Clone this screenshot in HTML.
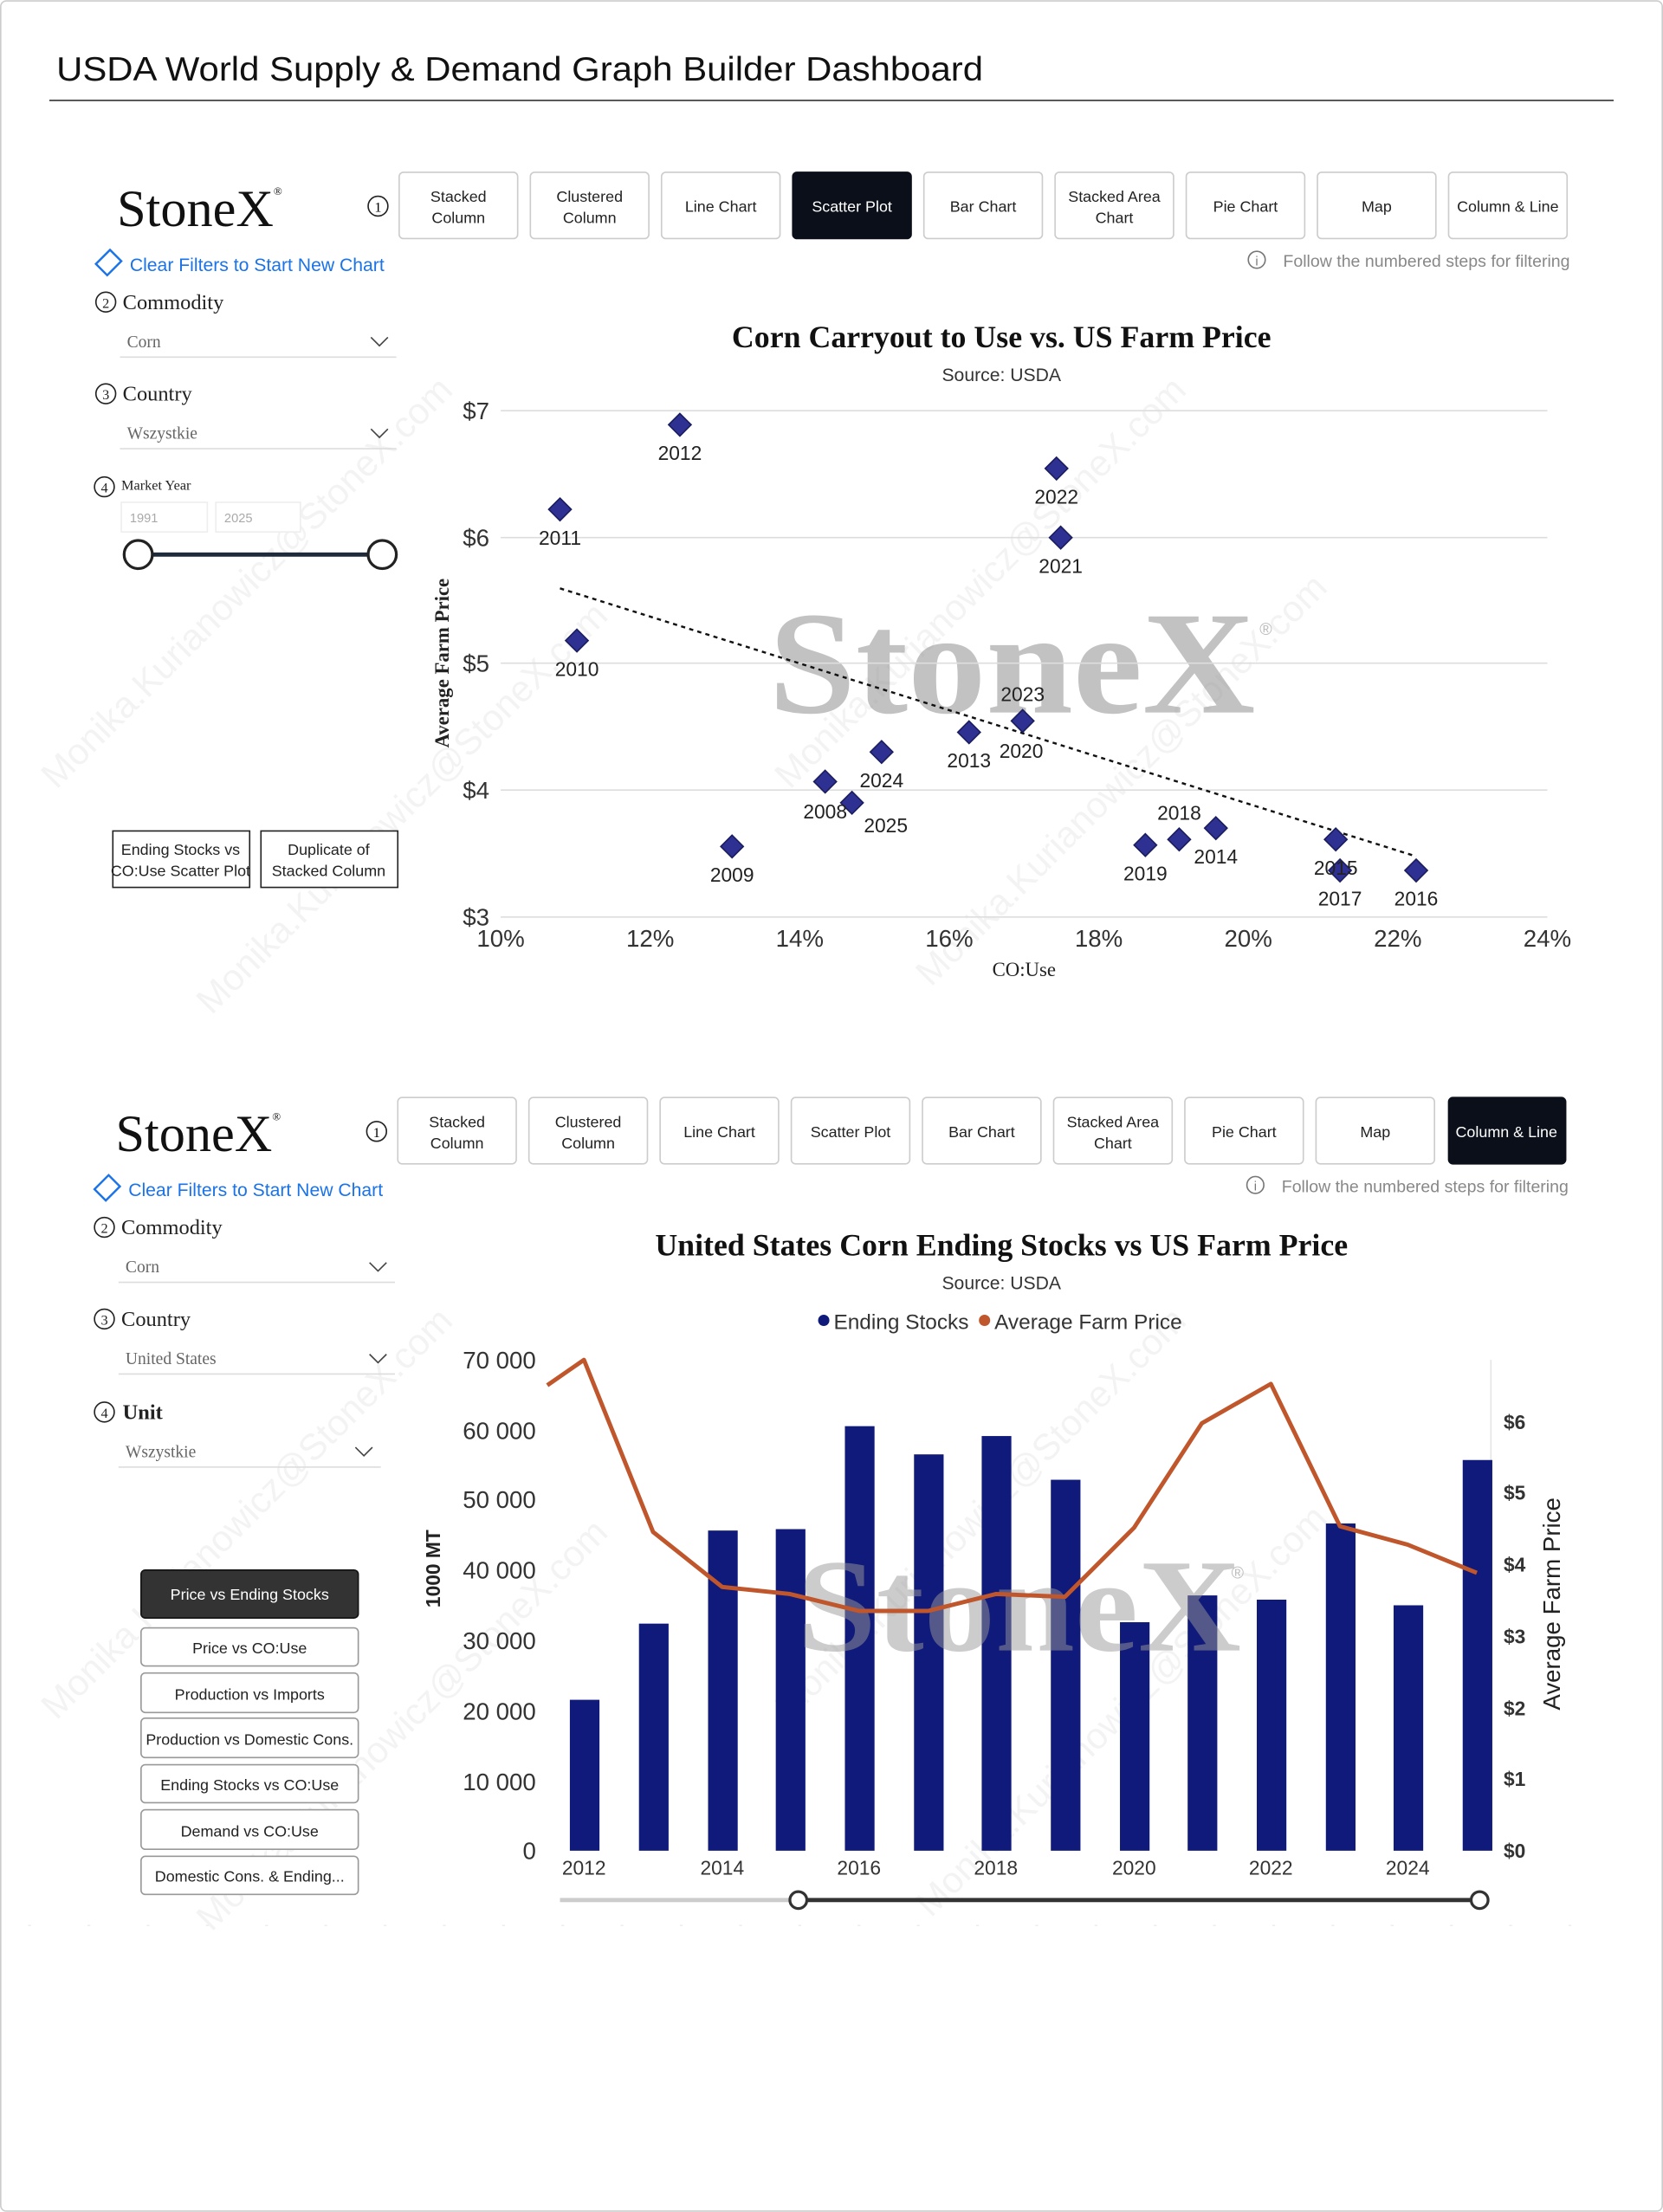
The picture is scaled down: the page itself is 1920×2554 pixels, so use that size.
<!DOCTYPE html>
<html><head><meta charset="utf-8"><style>
html,body{margin:0;padding:0;background:#fff;}
svg{display:block;}
.s{font-family:"Liberation Sans",sans-serif;}
.r{font-family:"Liberation Serif",serif;}
</style></head><body>
<svg width="1920" height="2554" viewBox="0 0 1179 1568" xmlns="http://www.w3.org/2000/svg">
<rect x="0.5" y="0.5" width="1178" height="1567" rx="4" fill="#fff" stroke="#ccc"/>
<text x="40" y="57" class="s" font-size="24" fill="#111" textLength="657" lengthAdjust="spacingAndGlyphs">USDA World Supply &amp; Demand Graph Builder Dashboard</text>
<line x1="35" y1="71" x2="1144" y2="71" stroke="#333" stroke-width="1"/>

<!-- watermarks -->
<g class="s" font-size="26" fill="#000" opacity="0.05">
<text transform="translate(40,560) rotate(-45)">Monika.Kurianowicz@StoneX.com</text>
<text transform="translate(150,720) rotate(-45)">Monika.Kurianowicz@StoneX.com</text>
<text transform="translate(560,560) rotate(-45)">Monika.Kurianowicz@StoneX.com</text>
<text transform="translate(660,700) rotate(-45)">Monika.Kurianowicz@StoneX.com</text>
<text transform="translate(40,1220) rotate(-45)">Monika.Kurianowicz@StoneX.com</text>
<text transform="translate(150,1370) rotate(-45)">Monika.Kurianowicz@StoneX.com</text>
<text transform="translate(560,1220) rotate(-45)">Monika.Kurianowicz@StoneX.com</text>
<text transform="translate(660,1360) rotate(-45)">Monika.Kurianowicz@StoneX.com</text>
</g>

<!-- ============ PANEL 1 ============ -->
<text x="83" y="160" class="r" font-size="37" fill="#111">StoneX<tspan font-size="8" dy="-22">®</tspan></text>
<circle cx="268" cy="146" r="7" fill="none" stroke="#222"/><text x="268" y="150" class="r" font-size="10" text-anchor="middle">1</text>
<g class="s" font-size="11" text-anchor="middle" fill="#222">
<rect x="283" y="122" width="84" height="47" rx="3" fill="#fff" stroke="#ccc"/><text x="325" y="143">Stacked</text><text x="325" y="158">Column</text>
<rect x="376" y="122" width="84" height="47" rx="3" fill="#fff" stroke="#ccc"/><text x="418" y="143">Clustered</text><text x="418" y="158">Column</text>
<rect x="469" y="122" width="84" height="47" rx="3" fill="#fff" stroke="#ccc"/><text x="511" y="150">Line Chart</text>
<rect x="562" y="122" width="84" height="47" rx="3" fill="#0b0f19" stroke="#0b0f19"/><text x="604" y="150" fill="#fff">Scatter Plot</text>
<rect x="655" y="122" width="84" height="47" rx="3" fill="#fff" stroke="#ccc"/><text x="697" y="150">Bar Chart</text>
<rect x="748" y="122" width="84" height="47" rx="3" fill="#fff" stroke="#ccc"/><text x="790" y="143">Stacked Area</text><text x="790" y="158">Chart</text>
<rect x="841" y="122" width="84" height="47" rx="3" fill="#fff" stroke="#ccc"/><text x="883" y="150">Pie Chart</text>
<rect x="934" y="122" width="84" height="47" rx="3" fill="#fff" stroke="#ccc"/><text x="976" y="150">Map</text>
<rect x="1027" y="122" width="84" height="47" rx="3" fill="#fff" stroke="#ccc"/><text x="1069" y="150">Column &amp; Line</text>
</g>
<path d="M68,187 L78,177 L86,185 L76,195 Z" fill="none" stroke="#1a73e8" stroke-width="1.5"/>
<text x="92" y="192" class="s" font-size="13" fill="#1a73e8">Clear Filters to Start New Chart</text>
<circle cx="891" cy="184" r="6" fill="none" stroke="#777"/><text x="891" y="188" class="s" font-size="9" text-anchor="middle" fill="#777">i</text>
<text x="1113" y="189" class="s" font-size="12" fill="#888" text-anchor="end">Follow the numbered steps for filtering</text>
<g class="r" fill="#222">
<circle cx="75" cy="214" r="7" fill="none" stroke="#222"/><text x="75" y="218" font-size="10" text-anchor="middle">2</text>
<text x="87" y="219" font-size="15">Commodity</text>
<line x1="85" y1="253" x2="281" y2="253" stroke="#ddd"/><text x="90" y="246" font-size="12" fill="#666">Corn</text>
<path d="M263,239 L269,245 L275,239" fill="none" stroke="#444"/>
<circle cx="75" cy="279" r="7" fill="none" stroke="#222"/><text x="75" y="283" font-size="10" text-anchor="middle">3</text>
<text x="87" y="284" font-size="15">Country</text>
<line x1="85" y1="318" x2="281" y2="318" stroke="#ddd"/><text x="90" y="311" font-size="12" fill="#666">Wszystkie</text>
<path d="M263,304 L269,310 L275,304" fill="none" stroke="#444"/>
<circle cx="74" cy="345" r="7" fill="none" stroke="#222"/><text x="74" y="349" font-size="10" text-anchor="middle">4</text>
<text x="86" y="347" font-size="10">Market Year</text>
</g>
<rect x="86" y="356" width="61" height="21" fill="#fff" stroke="#eee"/><text x="92" y="370" class="s" font-size="9" fill="#aaa">1991</text>
<rect x="153" y="356" width="60" height="21" fill="#fff" stroke="#eee"/><text x="159" y="370" class="s" font-size="9" fill="#aaa">2025</text>
<line x1="98" y1="393" x2="271" y2="393" stroke="#1f2a3a" stroke-width="3"/>
<circle cx="98" cy="393" r="10" fill="#fff" stroke="#222" stroke-width="2"/><circle cx="271" cy="393" r="10" fill="#fff" stroke="#222" stroke-width="2"/>
<g class="s" font-size="11" text-anchor="middle" fill="#222">
<rect x="80" y="589" width="97" height="40" fill="#fff" stroke="#222"/><text x="128" y="606">Ending Stocks vs</text><text x="128" y="621">CO:Use Scatter Plot</text>
<rect x="185" y="589" width="97" height="40" fill="#fff" stroke="#222"/><text x="233" y="606">Duplicate of</text><text x="233" y="621">Stacked Column</text>
</g>

<!-- chart 1 -->
<text x="545" y="505" class="r" font-size="104" font-weight="bold" fill="#999" opacity="0.6" textLength="345" lengthAdjust="spacingAndGlyphs">StoneX</text>
<text x="893" y="450" class="s" font-size="12" fill="#bbb">®</text>
<text x="710" y="246" class="r" font-size="22" font-weight="bold" text-anchor="middle" fill="#111">Corn Carryout to Use vs. US Farm Price</text>
<text x="710" y="270" class="s" font-size="13" text-anchor="middle" fill="#333">Source: USDA</text>
<g stroke="#ddd">
<line x1="355" y1="291" x2="1097" y2="291"/><line x1="355" y1="381" x2="1097" y2="381"/><line x1="355" y1="470" x2="1097" y2="470"/><line x1="355" y1="560" x2="1097" y2="560"/><line x1="355" y1="650" x2="1097" y2="650"/>
</g>
<g class="s" font-size="17" fill="#333" text-anchor="end">
<text x="347" y="297">$7</text><text x="347" y="387">$6</text><text x="347" y="476">$5</text><text x="347" y="566">$4</text><text x="347" y="656">$3</text>
</g>
<g class="s" font-size="17" fill="#333" text-anchor="middle">
<text x="355" y="671">10%</text><text x="461" y="671">12%</text><text x="567" y="671">14%</text><text x="673" y="671">16%</text><text x="779" y="671">18%</text><text x="885" y="671">20%</text><text x="991" y="671">22%</text><text x="1097" y="671">24%</text>
</g>
<text x="726" y="692" class="r" font-size="14" text-anchor="middle" fill="#222">CO:Use</text>
<text transform="translate(318,470) rotate(-90)" class="r" font-size="14" font-weight="bold" text-anchor="middle" fill="#222">Average Farm Price</text>
<line x1="397" y1="417" x2="1004" y2="607" stroke="#111" stroke-width="1.5" stroke-dasharray="3,3"/>
<g fill="#2e3192" stroke="#1a1d5e" stroke-width="1">
<path d="M482,293l8,8l-8,8l-8,-8z"/><path d="M397,353l8,8l-8,8l-8,-8z"/><path d="M749,324l8,8l-8,8l-8,-8z"/><path d="M752,373l8,8l-8,8l-8,-8z"/>
<path d="M409,446l8,8l-8,8l-8,-8z"/><path d="M725,503l8,8l-8,8l-8,-8z"/><path d="M687,511l8,8l-8,8l-8,-8z"/><path d="M625,525l8,8l-8,8l-8,-8z"/>
<path d="M585,546l8,8l-8,8l-8,-8z"/><path d="M604,561l8,8l-8,8l-8,-8z"/><path d="M519,592l8,8l-8,8l-8,-8z"/><path d="M812,591l8,8l-8,8l-8,-8z"/>
<path d="M836,587l8,8l-8,8l-8,-8z"/><path d="M862,579l8,8l-8,8l-8,-8z"/><path d="M947,587l8,8l-8,8l-8,-8z"/><path d="M950,609l8,8l-8,8l-8,-8z"/><path d="M1004,609l8,8l-8,8l-8,-8z"/>
</g>
<g class="s" font-size="14" fill="#222" text-anchor="middle">
<text x="482" y="326">2012</text><text x="397" y="386">2011</text><text x="749" y="357">2022</text><text x="752" y="406">2021</text><text x="409" y="479">2010</text>
<text x="725" y="497">2023</text><text x="724" y="537">2020</text><text x="687" y="544">2013</text><text x="625" y="558">2024</text><text x="585" y="580">2008</text>
<text x="628" y="590">2025</text><text x="519" y="625">2009</text><text x="836" y="581">2018</text><text x="812" y="624">2019</text><text x="862" y="612">2014</text>
<text x="947" y="620">2015</text><text x="950" y="642">2017</text><text x="1004" y="642">2016</text>
</g>

<!-- ============ PANEL 2 ============ -->
<text x="82" y="816" class="r" font-size="37" fill="#111">StoneX<tspan font-size="8" dy="-22">®</tspan></text>
<circle cx="267" cy="802" r="7" fill="none" stroke="#222"/><text x="267" y="806" class="r" font-size="10" text-anchor="middle">1</text>
<g class="s" font-size="11" text-anchor="middle" fill="#222">
<rect x="282" y="778" width="84" height="47" rx="3" fill="#fff" stroke="#ccc"/><text x="324" y="799">Stacked</text><text x="324" y="814">Column</text>
<rect x="375" y="778" width="84" height="47" rx="3" fill="#fff" stroke="#ccc"/><text x="417" y="799">Clustered</text><text x="417" y="814">Column</text>
<rect x="468" y="778" width="84" height="47" rx="3" fill="#fff" stroke="#ccc"/><text x="510" y="806">Line Chart</text>
<rect x="561" y="778" width="84" height="47" rx="3" fill="#fff" stroke="#ccc"/><text x="603" y="806">Scatter Plot</text>
<rect x="654" y="778" width="84" height="47" rx="3" fill="#fff" stroke="#ccc"/><text x="696" y="806">Bar Chart</text>
<rect x="747" y="778" width="84" height="47" rx="3" fill="#fff" stroke="#ccc"/><text x="789" y="799">Stacked Area</text><text x="789" y="814">Chart</text>
<rect x="840" y="778" width="84" height="47" rx="3" fill="#fff" stroke="#ccc"/><text x="882" y="806">Pie Chart</text>
<rect x="933" y="778" width="84" height="47" rx="3" fill="#fff" stroke="#ccc"/><text x="975" y="806">Map</text>
<rect x="1027" y="778" width="83" height="47" rx="3" fill="#0b0f19" stroke="#0b0f19"/><text x="1068" y="806" fill="#fff">Column &amp; Line</text>
</g>
<path d="M67,843 L77,833 L85,841 L75,851 Z" fill="none" stroke="#1a73e8" stroke-width="1.5"/>
<text x="91" y="848" class="s" font-size="13" fill="#1a73e8">Clear Filters to Start New Chart</text>
<circle cx="890" cy="840" r="6" fill="none" stroke="#777"/><text x="890" y="844" class="s" font-size="9" text-anchor="middle" fill="#777">i</text>
<text x="1112" y="845" class="s" font-size="12" fill="#888" text-anchor="end">Follow the numbered steps for filtering</text>
<g class="r" fill="#222">
<circle cx="74" cy="870" r="7" fill="none" stroke="#222"/><text x="74" y="874" font-size="10" text-anchor="middle">2</text>
<text x="86" y="875" font-size="15">Commodity</text>
<line x1="84" y1="909" x2="280" y2="909" stroke="#ddd"/><text x="89" y="902" font-size="12" fill="#666">Corn</text>
<path d="M262,895 L268,901 L274,895" fill="none" stroke="#444"/>
<circle cx="74" cy="935" r="7" fill="none" stroke="#222"/><text x="74" y="939" font-size="10" text-anchor="middle">3</text>
<text x="86" y="940" font-size="15">Country</text>
<line x1="84" y1="974" x2="280" y2="974" stroke="#ddd"/><text x="89" y="967" font-size="12" fill="#666">United States</text>
<path d="M262,960 L268,966 L274,960" fill="none" stroke="#444"/>
<circle cx="74" cy="1001" r="7" fill="none" stroke="#222"/><text x="74" y="1005" font-size="10" text-anchor="middle">4</text>
<text x="87" y="1006" font-size="15" font-weight="bold">Unit</text>
<line x1="84" y1="1040" x2="270" y2="1040" stroke="#ddd"/><text x="89" y="1033" font-size="12" fill="#666">Wszystkie</text>
<path d="M252,1026 L258,1032 L264,1026" fill="none" stroke="#444"/>
</g>
<g class="s" font-size="11" text-anchor="middle" fill="#222">
<rect x="100" y="1113" width="154" height="34" rx="3" fill="#333" stroke="#111"/><text x="177" y="1134" fill="#fff">Price vs Ending Stocks</text>
<rect x="100" y="1154" width="154" height="27" rx="3" fill="#fff" stroke="#999"/><text x="177" y="1172">Price vs CO:Use</text>
<rect x="100" y="1186" width="154" height="28" rx="3" fill="#fff" stroke="#999"/><text x="177" y="1205">Production vs Imports</text>
<rect x="100" y="1218" width="154" height="28" rx="3" fill="#fff" stroke="#999"/><text x="177" y="1237">Production vs Domestic Cons.</text>
<rect x="100" y="1251" width="154" height="27" rx="3" fill="#fff" stroke="#999"/><text x="177" y="1269">Ending Stocks vs CO:Use</text>
<rect x="100" y="1283" width="154" height="28" rx="3" fill="#fff" stroke="#999"/><text x="177" y="1302">Demand vs CO:Use</text>
<rect x="100" y="1316" width="154" height="27" rx="3" fill="#fff" stroke="#999"/><text x="177" y="1334">Domestic Cons. &amp; Ending...</text>
</g>

<!-- chart 2 -->
<text x="710" y="890" class="r" font-size="22" font-weight="bold" text-anchor="middle" fill="#111">United States Corn Ending Stocks vs US Farm Price</text>
<text x="710" y="914" class="s" font-size="13" text-anchor="middle" fill="#333">Source: USDA</text>
<circle cx="584" cy="936" r="4" fill="#0f1a7a"/><text x="591" y="942" class="s" font-size="15" fill="#333">Ending Stocks</text>
<circle cx="698" cy="936" r="4" fill="#c0562b"/><text x="705" y="942" class="s" font-size="15" fill="#333">Average Farm Price</text>
<g class="s" font-size="17" fill="#333" text-anchor="end">
<text x="380" y="970">70 000</text><text x="380" y="1020">60 000</text><text x="380" y="1069">50 000</text><text x="380" y="1119">40 000</text><text x="380" y="1169">30 000</text><text x="380" y="1219">20 000</text><text x="380" y="1269">10 000</text><text x="380" y="1318">0</text>
</g>
<line x1="1057" y1="964" x2="1057" y2="1312" stroke="#e5e5e5"/>
<g class="s" font-size="14" font-weight="bold" fill="#333">
<text x="1066" y="1013">$6</text><text x="1066" y="1063">$5</text><text x="1066" y="1114">$4</text><text x="1066" y="1165">$3</text><text x="1066" y="1216">$2</text><text x="1066" y="1266">$1</text><text x="1066" y="1317">$0</text>
</g>
<text transform="translate(312,1112) rotate(-90)" class="s" font-size="14" font-weight="bold" text-anchor="middle" fill="#222">1000 MT</text>
<text transform="translate(1106,1137) rotate(-90)" class="s" font-size="17" text-anchor="middle" fill="#222">Average Farm Price</text>
<g fill="#0f1a7a">
<rect x="404" y="1205" width="21" height="107"/><rect x="453" y="1151" width="21" height="161"/><rect x="502" y="1085" width="21" height="227"/><rect x="550" y="1084" width="21" height="228"/>
<rect x="599" y="1011" width="21" height="301"/><rect x="648" y="1031" width="21" height="281"/><rect x="696" y="1018" width="21" height="294"/><rect x="745" y="1049" width="21" height="263"/>
<rect x="794" y="1150" width="21" height="162"/><rect x="842" y="1131" width="21" height="181"/><rect x="891" y="1134" width="21" height="178"/><rect x="940" y="1080" width="21" height="232"/>
<rect x="988" y="1138" width="21" height="174"/><rect x="1037" y="1035" width="21" height="277"/>
</g>
<text x="565" y="1170" class="r" font-size="94" font-weight="bold" fill="#999" opacity="0.5" textLength="315" lengthAdjust="spacingAndGlyphs">StoneX</text>
<text x="873" y="1119" class="s" font-size="12" fill="#bbb">®</text>
<polyline points="388,982 414,964 463,1086 512,1125 560,1130 609,1142 658,1142 706,1130 755,1132 804,1083 852,1009 901,981 950,1082 998,1095 1047,1115" fill="none" stroke="#c0562b" stroke-width="3" stroke-linejoin="round"/>
<g class="s" font-size="14" fill="#333" text-anchor="middle">
<text x="414" y="1329">2012</text><text x="512" y="1329">2014</text><text x="609" y="1329">2016</text><text x="706" y="1329">2018</text><text x="804" y="1329">2020</text><text x="901" y="1329">2022</text><text x="998" y="1329">2024</text>
</g>
<line x1="397" y1="1347" x2="566" y2="1347" stroke="#ccc" stroke-width="3"/>
<line x1="566" y1="1347" x2="1049" y2="1347" stroke="#333" stroke-width="3"/>
<circle cx="566" cy="1347" r="6" fill="#fff" stroke="#333" stroke-width="2"/><circle cx="1049" cy="1347" r="6" fill="#fff" stroke="#333" stroke-width="2"/>
<line x1="20" y1="1365" x2="1135" y2="1365" stroke="#eee" stroke-dasharray="2,40"/>
</svg>
</body></html>
